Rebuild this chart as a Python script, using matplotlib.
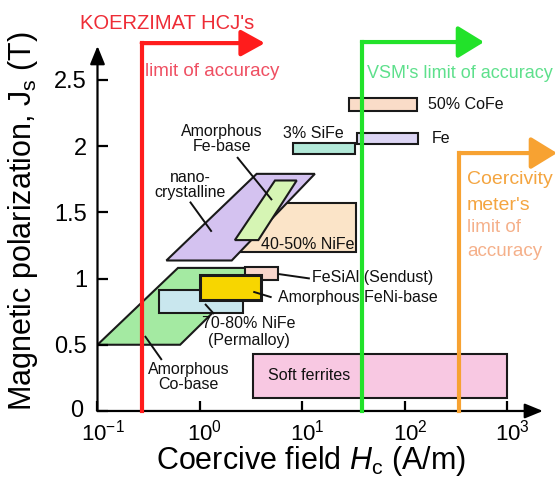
import matplotlib
matplotlib.use('Agg')
import matplotlib.pyplot as plt
import matplotlib.transforms as mtransforms
from matplotlib.patches import Polygon, Rectangle

plt.rcParams['font.family'] = ['Liberation Sans', 'DejaVu Sans']
plt.rcParams['mathtext.fontset'] = 'custom'
plt.rcParams['mathtext.rm'] = 'Liberation Sans'
plt.rcParams['mathtext.it'] = 'Liberation Sans:italic'
plt.rcParams['mathtext.bf'] = 'Liberation Sans:bold'

# ---------------- data ----------------
# rectangular regions (Hc range in A/m, Js range in T)
rect_names = ['Soft ferrites', '70-80% NiFe', 'FeSiAl (Sendust)', 'Amorphous FeNi-base',
              '40-50% NiFe', '3% SiFe', 'Fe', '50% CoFe']
rect_hc_lo = [3.3, 0.40, 2.75, 1.0, 2.15, 8.1, 34, 28.4]
rect_hc_hi = [1000, 2.6, 5.8, 3.9, 33, 32.5, 134, 131]
rect_js_lo = [0.10, 0.74, 0.99, 0.84, 1.20, 1.94, 2.015, 2.265]
rect_js_hi = [0.43, 0.91, 1.09, 1.03, 1.57, 2.02, 2.10, 2.365]
rect_colors = ['#f8c8e2', '#c9e7ee', '#f8d6cc', '#f7d600', '#fbe4c8', '#b2e8d8', '#dcd5f4', '#fadcc8']
rect_z = [2, 3, 4, 5, 2, 2, 2, 2]
rect_lw = [1.5, 1.5, 1.5, 2.2, 1.5, 1.5, 1.5, 1.5]

# parallelogram regions
para_names = ['Amorphous Co-base', 'nanocrystalline', 'Amorphous Fe-base']
para_js_lo = [0.50, 1.136, 1.29]
para_js_hi = [1.08, 1.79, 1.74]
para_hc_bot_lo = [0.10, 0.47, 2.19]
para_hc_bot_hi = [0.64, 2.04, 3.71]
para_hc_top_lo = [0.61, 3.57, 5.39]
para_hc_top_hi = [3.7, 13.2, 8.78]
para_colors = ['#a4eaa2', '#d4c2f0', '#d6f5b4']
para_z = [1, 3, 4]

# instrument limits
limit_hc = [0.27, 38, 337]
limit_top = [2.777, 2.785, 1.947]
limit_tip = [4.3, 590, 3040]
limit_colors = ['#ff1c1c', '#22e22a', '#f7a232']

# labels with leader lines
lab_text = ['Amorphous\nFe-base', 'nano-\ncrystalline', 'FeSiAl (Sendust)', 'Amorphous FeNi-base',
            '70-80% NiFe\n(Permalloy)', 'Amorphous\nCo-base']
lab_x = [1.64, 0.80, 12.4, 5.77, 3.0, 0.78]
lab_y = [2.053, 1.706, 1.004, 0.86, 0.596, 0.253]
lab_ha = ['center', 'center', 'left', 'left', 'center', 'center']
lab_ls = [0.93, 1.03, 1.2, 1.2, 1.2, 1.0]
lead_x0 = [2.30, 0.798, 5.81, 3.31, 1.12, 0.29]
lead_y0 = [1.917, 1.58, 1.034, 0.90, 0.808, 0.566]
lead_x1 = [5.04, 1.30, 11.8, 5.0, 1.37, 0.424]
lead_y1 = [1.592, 1.353, 1.0, 0.858, 0.732, 0.385]

# plain labels
plain_text = ['40-50% NiFe', 'Soft ferrites', '3% SiFe', '50% CoFe', 'Fe']
plain_x = [32, 4.6, 6.45, 167, 183]
plain_y = [1.253, 0.27, 2.098, 2.31, 2.06]
plain_ha = ['right', 'left', 'left', 'left', 'left']

yticks = [0, 0.5, 1, 1.5, 2, 2.5]
ytick_labels = ['0', '0.5', '1', '1.5', '2', '2.5']
xticks = [0.1, 1, 10, 100, 1000]
xtick_labels = ['$10^{-1}$', '$10^{0}$', '$10^{1}$', '$10^{2}$', '$10^{3}$']

# ---------------- figure ----------------
fig = plt.figure(figsize=(5.59, 4.78), dpi=100)
ax = fig.add_axes([0.1744, 0.1402, 0.8013, 0.776])
ax.set_xscale('log')
ax.set_xlim(0.1, 10 ** 3.37)
ax.set_ylim(0, 2.8)
for s in ax.spines.values():
    s.set_visible(False)

edge = '#1a1a1a'
for i in range(len(para_names)):
    pts = [(para_hc_bot_lo[i], para_js_lo[i]), (para_hc_bot_hi[i], para_js_lo[i]),
           (para_hc_top_hi[i], para_js_hi[i]), (para_hc_top_lo[i], para_js_hi[i])]
    ax.add_patch(Polygon(pts, closed=True, facecolor=para_colors[i], edgecolor=edge,
                         lw=1.5, zorder=para_z[i], joinstyle='miter'))

for i in range(len(rect_names)):
    ax.add_patch(Rectangle((rect_hc_lo[i], rect_js_lo[i]), rect_hc_hi[i] - rect_hc_lo[i],
                           rect_js_hi[i] - rect_js_lo[i], facecolor=rect_colors[i],
                           edgecolor=edge, lw=rect_lw[i], zorder=rect_z[i]))

# labels
for i in range(len(lab_text)):
    ax.text(lab_x[i], lab_y[i], lab_text[i], ha=lab_ha[i], va='center', fontsize=11.5,
            color='#111111', linespacing=lab_ls[i], zorder=8, multialignment='center')
    ax.plot([lead_x0[i], lead_x1[i]], [lead_y0[i], lead_y1[i]], color='#111111', lw=1.4,
            zorder=7, solid_capstyle='butt')
for i in range(len(plain_text)):
    ax.text(plain_x[i], plain_y[i], plain_text[i], ha=plain_ha[i], va='center', fontsize=11.5,
            color='#111111', zorder=8)

# axis lines with arrow heads
ax.annotate('', xy=(0.1, 2.755), xytext=(0.1, 0), xycoords='data', annotation_clip=False,
            arrowprops=dict(arrowstyle='-|>,head_length=1.1,head_width=0.45', mutation_scale=10,
                            lw=1.6, color='black', shrinkA=0, shrinkB=0))
ax.annotate('', xy=(2218, 0), xytext=(0.1, 0), xycoords='data', annotation_clip=False,
            arrowprops=dict(arrowstyle='-|>,head_length=1.1,head_width=0.45', mutation_scale=10,
                            lw=1.6, color='black', shrinkA=0, shrinkB=0))

# limit lines
for i in range(3):
    ax.plot([limit_hc[i], limit_hc[i]], [0, limit_top[i]], color=limit_colors[i], lw=3,
            solid_capstyle='projecting', zorder=9, clip_on=False)
    hl = 1.45 if i == 0 else 1.6
    hw = 0.8 if i == 0 else 0.98
    ax.annotate('', xy=(limit_tip[i], limit_top[i]), xytext=(limit_hc[i], limit_top[i]),
                annotation_clip=False,
                arrowprops=dict(arrowstyle='-|>,head_length=%g,head_width=%g' % (hl, hw),
                                mutation_scale=10, lw=3, color=limit_colors[i],
                                shrinkA=0, shrinkB=0), zorder=9)

# ticks
ax.set_yticks(yticks)
ax.set_yticklabels(ytick_labels)
ax.set_xticks(xticks)
ax.set_xticklabels(xtick_labels)
ax.minorticks_off()
ax.tick_params(axis='y', direction='in', length=8, width=1.6, labelsize=17, pad=7.5)
ax.tick_params(axis='x', direction='in', length=7, width=1.6, labelsize=16, pad=6)
shift = mtransforms.ScaledTranslation(5 / 100, 0, fig.dpi_scale_trans)
for lbl in ax.get_xticklabels():
    lbl.set_transform(lbl.get_transform() + shift)
zero_shift = mtransforms.ScaledTranslation(-4 / 100, 2 / 100, fig.dpi_scale_trans)
ylbls = ax.get_yticklabels()
ylbls[0].set_transform(ylbls[0].get_transform() + zero_shift)
ax.patch.set_visible(False)

# axis titles
fig.text(0.041, 0.537, 'Magnetic polarization, J$_{\\mathrm{s}}$ (T)', rotation=90,
         ha='center', va='center', fontsize=22)
fig.text(0.556, 0.018, 'Coercive field $H_{\\mathrm{c}}$ (A/m)', ha='center', va='baseline',
         fontsize=22)

# instrument texts
fig.text(80 / 559, 1 - 23.5 / 478, "KOERZIMAT HCJ's", color='#ee2c36', fontsize=14.5,
         ha='left', va='center')
fig.text(145 / 559, 1 - 71 / 478, 'limit of accuracy', color='#ef4f62', fontsize=13.5,
         ha='left', va='center')
fig.text(367 / 559, 1 - 73.5 / 478, "VSM's limit of accuracy", color='#5ee08c', fontsize=13,
         ha='left', va='center')
fig.text(467 / 559, 1 - 180 / 478, 'Coercivity', color='#f4a540', fontsize=14,
         ha='left', va='center')
fig.text(467 / 559, 1 - 205 / 478, "meter's", color='#f4a540', fontsize=14,
         ha='left', va='center')
fig.text(467 / 559, 1 - 228 / 478, 'limit of', color='#f5b08a', fontsize=13.5,
         ha='left', va='center')
fig.text(467 / 559, 1 - 252 / 478, 'accuracy', color='#f5b08a', fontsize=13.5,
         ha='left', va='center')

fig.savefig('out.png', dpi=100)
